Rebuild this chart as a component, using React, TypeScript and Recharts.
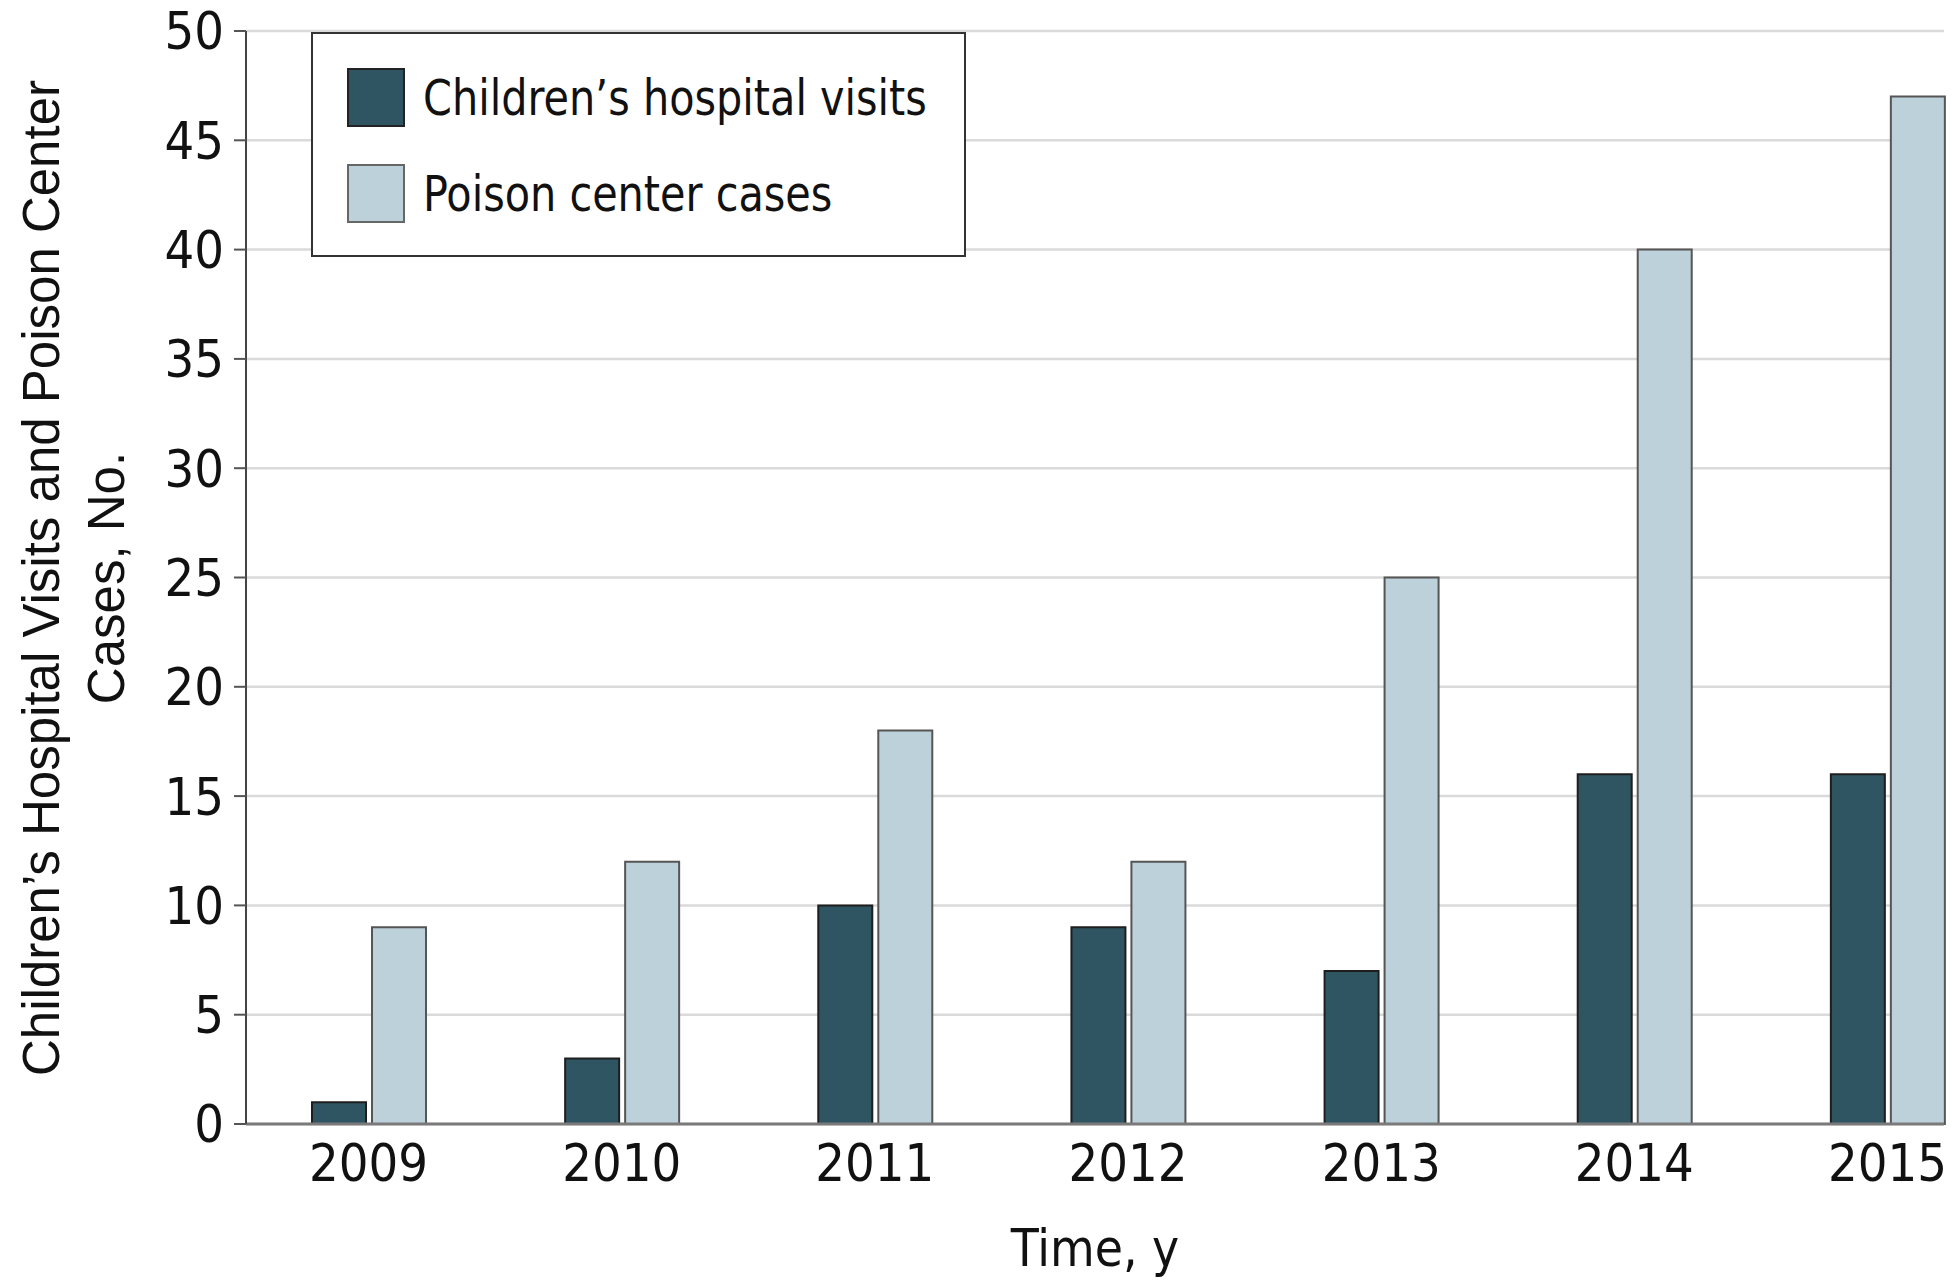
import { BarChart, Bar, XAxis, YAxis, CartesianGrid, Legend } from "recharts"

const years = ["2009", "2010", "2011", "2012", "2013", "2014", "2015"]
const hospitalVisits = [1, 3, 10, 9, 7, 16, 16]
const poisonCases = [9, 12, 18, 12, 25, 40, 47]
const yTicks = [0, 5, 10, 15, 20, 25, 30, 35, 40, 45, 50]

const seriesNames = ["Children\u2019s hospital visits", "Poison center cases"]
const DARK = "#2f5462"
const LIGHT = "#bdd1da"
const NARROW = '"Liberation Sans Narrow", "DejaVu Sans Condensed", sans-serif'
const SANS = '"Liberation Sans", Arial, sans-serif'

const data = years.map((year, i) => ({
  year,
  visits: hospitalVisits[i],
  poison: poisonCases[i],
}))

function LegendBox() {
  const items = [
    { name: seriesNames[0], fill: DARK, stroke: "#222" },
    { name: seriesNames[1], fill: LIGHT, stroke: "#666" },
  ]
  return (
    <div
      style={{
        width: 655,
        height: 225,
        boxSizing: "border-box",
        border: "2px solid #333",
        background: "#fff",
        paddingTop: 33,
        paddingLeft: 34,
      }}
    >
      {items.map((it) => (
        <div
          key={it.name}
          style={{ display: "flex", alignItems: "center", height: 61, marginBottom: 35 }}
        >
          <div
            style={{
              width: 58,
              height: 59,
              flexShrink: 0,
              background: it.fill,
              border: `2px solid ${it.stroke}`,
              boxSizing: "border-box",
            }}
          />
          <span
            style={{
              marginLeft: 18,
              fontFamily: NARROW,
              fontSize: 50,
              color: "#111",
              whiteSpace: "nowrap",
              display: "inline-block",
              transform: "scaleX(0.92)",
              transformOrigin: "left center",
            }}
          >
            {it.name}
          </span>
        </div>
      ))}
    </div>
  )
}

function YLabel() {
  const cy = 578
  return (
    <g fontFamily={SANS} fontSize={51} fill="#111" textAnchor="middle">
      <text x={41} y={cy} transform={`rotate(-90 41 ${cy})`} dominantBaseline="central">
        Children’s Hospital Visits and Poison Center
      </text>
      <text x={106} y={cy} transform={`rotate(-90 106 ${cy})`} dominantBaseline="central">
        Cases, No.
      </text>
    </g>
  )
}

function XLabel() {
  return (
    <text
      x={1095}
      y={1248}
      fontFamily={NARROW}
      fontSize={51}
      fill="#111"
      textAnchor="middle"
      dominantBaseline="central"
    >
      Time, y
    </text>
  )
}

export default function App() {
  return (
    <div style={{ position: "absolute", left: 0, top: 0, background: "#fff" }}>
      <BarChart
        width={1957}
        height={1280}
        data={data}
        margin={{ top: 31, right: 13, bottom: 0, left: 0 }}
        barSize={54}
        barGap={6}
        barCategoryGap={0}
      >
        <CartesianGrid vertical={false} stroke="#dadada" strokeWidth={2.5} />
        <XAxis
          dataKey="year"
          height={156}
          padding={{ left: -4, right: -70 }}
          tickLine={false}
          axisLine={{ stroke: "#7a7a7a", strokeWidth: 3 }}
          tick={{ fontFamily: NARROW, fontSize: 52, fill: "#111" }}
          tickMargin={14}
          label={<XLabel />}
        />
        <YAxis
          width={246}
          domain={[0, 50]}
          ticks={yTicks}
          interval={0}
          tickSize={12}
          tickLine={{ stroke: "#555", strokeWidth: 2 }}
          axisLine={{ stroke: "#444", strokeWidth: 2 }}
          tick={{ fontFamily: NARROW, fontSize: 52, fill: "#111" }}
          tickMargin={10}
          label={<YLabel />}
        />
        <Legend
          layout="vertical"
          align="center"
          verticalAlign="middle"
          wrapperStyle={{ left: 311, top: 32, width: 655, height: 225 }}
          content={() => <LegendBox />}
        />
        <Bar
          dataKey="visits"
          name={seriesNames[0]}
          fill={DARK}
          stroke="#1e1e1e"
          strokeWidth={2}
          isAnimationActive={false}
        />
        <Bar
          dataKey="poison"
          name={seriesNames[1]}
          fill={LIGHT}
          stroke="#555"
          strokeWidth={2}
          isAnimationActive={false}
        />
      </BarChart>
    </div>
  )
}
